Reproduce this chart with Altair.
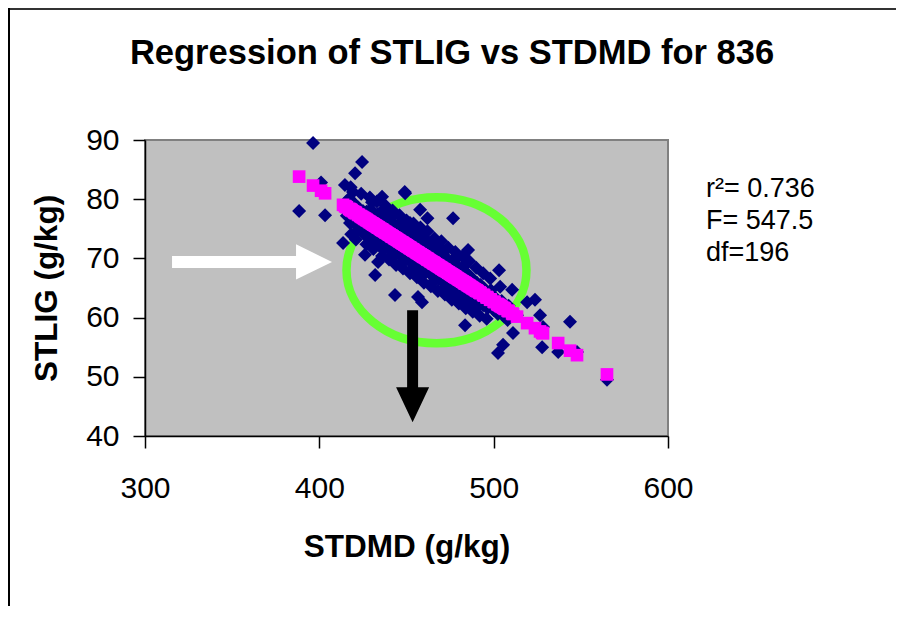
import altair as alt
import pandas as pd

# ---- data ----
STDMD = [
    # scattered points
    396.4, 388.4, 401.0, 403.3, 424.5, 420.5, 414.7, 419.3, 430.2, 436.0, 449.0,
    413.6, 426.2, 433.7, 432.0, 476.7, 485.3, 457.8, 452.0, 503.1, 503.7, 519.2,
    526.6, 543.8, 528.3, 511.1, 505.4, 502.5, 527.8, 537.0, 547.8, 565.0, 483.6,
    458.9, 449.2, 456.6, 462.0, 510.6, 523.7, 513.4, 443.4,
    # dense band
    415.2, 415.8, 417.1, 417.6, 418.4, 420.0, 420.3, 420.9, 422.2, 422.7, 423.5,
    425.0, 425.4, 425.9, 426.3, 427.1, 427.6, 428.2, 428.8, 429.4, 430.0, 430.5,
    430.8, 431.2, 431.7, 432.1, 432.6, 433.3, 433.7, 434.0, 434.4, 434.9, 435.2,
    435.7, 436.1, 436.6, 437.0, 437.3, 437.8, 438.2, 438.6, 439.1, 439.5, 440.0,
    440.3, 440.8, 441.2, 441.7, 442.1, 442.6, 443.0, 443.3, 443.8, 444.2, 444.7,
    445.0, 445.4, 445.8, 446.2, 446.7, 447.0, 447.4, 447.9, 448.3, 448.7, 449.2,
    449.6, 450.0, 450.3, 450.6, 450.9, 451.3, 451.8, 452.2, 452.6, 453.1, 453.6,
    454.0, 454.3, 454.8, 455.2, 455.7, 456.1, 456.5, 457.0, 457.3, 457.8, 458.2,
    458.7, 459.0, 459.5, 460.0, 460.3, 460.8, 461.2, 461.6, 462.0, 462.4, 462.8,
    463.3, 463.7, 464.1, 464.6, 465.0, 465.3, 465.8, 466.2, 466.7, 467.1, 467.5,
    468.0, 468.3, 468.8, 469.2, 469.6, 470.0, 470.4, 470.8, 471.1, 471.6, 472.0,
    472.5, 473.0, 473.4, 474.0, 474.5, 475.0, 475.3, 475.8, 476.2, 476.7, 477.1,
    477.6, 478.0, 478.5, 479.0, 479.4, 480.0, 480.3, 480.8, 481.2, 481.7, 482.1,
    482.6, 483.0, 483.4, 484.0, 484.5, 485.0, 485.4, 486.0, 486.5, 487.0, 487.4,
    488.0, 488.6, 489.1, 489.6, 490.0, 490.4, 490.9, 492.0, 492.5, 494.0, 494.6,
    496.0, 496.5, 498.0, 498.4, 500.0, 500.5, 502.0, 502.4, 504.0, 504.6, 506.0,
    506.5, 508.0, 508.6,
    # outer edge of the band
    418.0, 418.3, 421.0, 424.0, 427.0, 429.0, 431.0, 433.0, 436.0, 438.0, 440.0,
    442.0, 444.0, 446.0, 448.0, 450.0, 452.0, 454.0, 456.0, 458.0, 460.0, 462.0,
    464.0, 466.0, 468.0, 470.0, 472.0, 474.0, 476.0, 478.0, 480.0, 482.0, 484.0,
    486.0, 488.0, 490.0, 492.0, 494.0, 496.0, 498.0,
    435.5, 435.5, 441.5, 441.5, 447.5, 447.5, 453.5, 453.5, 459.5, 459.5, 465.5,
    465.5, 471.5, 471.5, 477.5, 477.5, 483.5, 483.5,
]
STLIG = [
    89.5, 78.0, 82.8, 77.3, 86.3, 84.4, 82.4, 81.2, 79.5, 80.4, 81.2,
    72.6, 70.6, 69.4, 67.2, 76.8, 71.4, 78.2, 76.0, 68.0, 65.2, 62.6,
    60.4, 59.3, 58.4, 57.4, 55.4, 54.0, 55.0, 54.2, 54.2, 49.5, 58.7,
    62.6, 81.0, 63.5, 76.8, 64.7, 63.0, 60.4, 63.8,
    79.5, 77.2, 80.1, 76.0, 78.9, 75.9, 79.2, 77.0, 78.6, 74.8, 76.1,
    78.0, 75.2, 77.6, 73.9, 77.9, 75.8, 76.9, 74.6, 78.3, 74.5, 76.8,
    73.2, 77.0, 75.1, 76.4, 72.9, 74.0, 77.5, 75.9, 73.6, 76.6, 74.2,
    77.2, 72.5, 75.6, 76.3, 73.8, 74.9, 71.9, 75.8, 73.3, 76.9, 74.8,
    72.1, 75.5, 73.0, 76.2, 71.2, 74.6, 75.3, 72.4, 73.9, 70.8, 74.7,
    72.3, 75.6, 73.7, 71.5, 74.1, 73.4, 70.2, 75.0, 71.9, 73.8, 74.4,
    70.9, 72.8, 69.8, 73.9, 71.2, 74.9, 70.5, 72.6, 69.4, 73.7, 71.0,
    70.1, 72.2, 74.3, 69.0, 71.9, 73.3, 70.4, 71.6, 68.7, 72.9, 69.9,
    73.8, 71.3, 67.9, 72.4, 69.5, 70.9, 68.2, 71.7, 70.6, 72.8, 68.9,
    67.6, 70.3, 71.8, 68.4, 69.9, 66.9, 72.1, 68.0, 70.7, 71.4, 67.4,
    69.5, 66.5, 70.2, 67.8, 71.0, 69.8, 66.1, 68.9, 70.6, 67.0, 65.8,
    68.7, 69.9, 66.6, 68.4, 65.2, 69.3, 66.0, 67.9, 64.9, 68.6, 66.4,
    69.7, 67.5, 64.4, 68.8, 65.6, 66.9, 64.0, 68.1, 65.1, 67.4, 63.5,
    66.8, 67.9, 64.7, 66.2, 63.1, 64.4, 67.3, 65.9, 62.8, 66.8, 64.0,
    63.3, 65.6, 66.1, 62.5, 64.0, 65.9, 61.9, 63.2, 65.5, 62.1, 64.9,
    63.9, 61.6, 62.4, 64.6, 61.3, 63.5, 62.9, 60.6, 60.9, 62.8, 60.2,
    61.8, 59.6, 62.0,
    82.0, 74.1, 73.2, 80.9, 72.4, 80.3, 71.6, 79.6, 70.4, 78.9, 69.8,
    78.1, 68.9, 77.3, 68.3, 76.4, 67.5, 75.9, 66.8, 75.2, 65.9, 74.6,
    65.3, 73.4, 64.5, 72.9, 63.9, 71.8, 63.0, 71.1, 62.4, 70.3, 61.6,
    69.5, 61.0, 68.4, 60.3, 67.5, 59.8, 66.6,
    77.9, 71.8, 76.9, 70.6, 75.7, 69.4, 74.6, 68.3, 73.5, 67.2, 72.3,
    66.1, 71.2, 64.9, 70.1, 63.8, 68.9, 62.6,
]

# fitted regression line read from the magenta squares
FIT_INTERCEPT = 157.3
FIT_SLOPE = -0.1892

X_TICKS = [300, 400, 500, 600]
Y_TICKS = [40, 50, 60, 70, 80, 90]
TITLE = "Regression of STLIG vs STDMD for 836"
X_TITLE = "STDMD (g/kg)"
Y_TITLE = "STLIG (g/kg)"
STATS_LINES = ["r²= 0.736", "F= 547.5", "df=196"]

# annotation anchors (data coordinates)
ELLIPSE_CENTER = (467.2, 68.0)
WHITE_ARROW_CENTER = (361.4, 69.4)
BLACK_ARROW_CENTER = (453.5, 51.8)

FONT = "Liberation Sans"

df = pd.DataFrame({"STDMD": STDMD, "STLIG": STLIG})

W, H = 523, 296
PAD = {"left": 137, "top": 132, "right": 228, "bottom": 170}

xs = alt.Scale(domain=[300, 600], nice=False, zero=False)
ys = alt.Scale(domain=[40, 90], nice=False, zero=False)

x_enc = alt.X(
    "STDMD:Q", scale=xs,
    axis=alt.Axis(values=X_TICKS, title=X_TITLE, grid=False, labelPadding=25,
                  titlePadding=28, tickSize=12, labelFlush=False),
)
y_enc = alt.Y(
    "STLIG:Q", scale=ys,
    axis=alt.Axis(values=Y_TICKS, title=Y_TITLE, grid=False, labelPadding=14,
                  titlePadding=22, tickSize=12, labelFlush=False),
)
x_plain = alt.X("STDMD:Q", scale=xs, title=X_TITLE)
y_plain = alt.Y("STLIG:Q", scale=ys, title=Y_TITLE)

ellipse_df = pd.DataFrame({"STDMD": [ELLIPSE_CENTER[0]], "STLIG": [ELLIPSE_CENTER[1]]})
ellipse = alt.Chart(ellipse_df).mark_point(
    shape="M-1,0A1,0.811,0,1,1,1,0A1,0.811,0,1,1,-1,0Z",
    filled=False, stroke="#66FF33", strokeWidth=8.5, size=32400, opacity=1,
).encode(x=x_enc, y=y_enc)

points = alt.Chart(df).mark_point(
    shape="diamond", filled=True, color="#000080", size=196, opacity=1,
).encode(x=x_plain, y=y_plain)

fitted = alt.Chart(df).transform_calculate(
    STLIG=f"{FIT_INTERCEPT} + ({FIT_SLOPE}) * datum.STDMD"
).mark_point(
    shape="square", filled=True, color="#FF00FF", size=160, opacity=1,
).encode(x=x_plain, y=y_plain)

white_df = pd.DataFrame({"STDMD": [WHITE_ARROW_CENTER[0]], "STLIG": [WHITE_ARROW_CENTER[1]]})
white_arrow = alt.Chart(white_df).mark_point(
    shape="M-1,-0.075L0.55,-0.075L0.55,-0.22L1,0L0.55,0.22L0.55,0.075L-1,0.075Z",
    filled=True, color="#FFFFFF", size=25600, opacity=1,
).encode(x=x_plain, y=y_plain)

black_df = pd.DataFrame({"STDMD": [BLACK_ARROW_CENTER[0]], "STLIG": [BLACK_ARROW_CENTER[1]]})
black_arrow = alt.Chart(black_df).mark_point(
    shape="M-0.098,-1L0.098,-1L0.098,0.375L0.295,0.375L0,1L-0.295,0.375L-0.098,0.375Z",
    filled=True, color="#000000", size=12544, opacity=1,
).encode(x=x_plain, y=y_plain)

stats = alt.Chart(pd.DataFrame({"t": ["\n".join(STATS_LINES)]})).mark_text(
    align="left", baseline="alphabetic", font=FONT, fontSize=27, color="#000000",
    lineBreak="\n", lineHeight=32,
).encode(x=alt.value(561), y=alt.value(57), text="t:N")

title = alt.Chart(pd.DataFrame({"t": [TITLE]})).mark_text(
    align="center", baseline="alphabetic", font=FONT, fontSize=34.5, fontWeight="bold",
    color="#000000",
).encode(x=alt.value(307), y=alt.value(-76), text="t:N")

frame_top = alt.Chart(pd.DataFrame({"a": [0]})).mark_rule(
    color="#333333", strokeWidth=2
).encode(x=alt.value(-PAD["left"]), x2=alt.value(W + PAD["right"]), y=alt.value(-PAD["top"] + 1))
frame_left = alt.Chart(pd.DataFrame({"a": [0]})).mark_rule(
    color="#000000", strokeWidth=2
).encode(x=alt.value(-PAD["left"] + 1), y=alt.value(-PAD["top"]), y2=alt.value(H + PAD["bottom"]))

chart = alt.layer(
    ellipse, points, fitted, white_arrow, black_arrow, stats, title, frame_top, frame_left
).properties(
    width=W, height=H, padding=PAD, autosize=alt.AutoSizeParams(type="none"),
    background="#FFFFFF",
).configure_view(
    fill="#C0C0C0", stroke="#808080", strokeWidth=2,
).configure_axis(
    labelFont=FONT, labelFontSize=30, labelColor="#000000",
    titleFont=FONT, titleFontSize=31.5, titleFontWeight="bold", titleColor="#000000",
    domainColor="#000000", domainWidth=1.5, tickColor="#000000", tickWidth=1.5,
)

chart.save("out.html", embed_options={"renderer": "svg", "actions": False})
